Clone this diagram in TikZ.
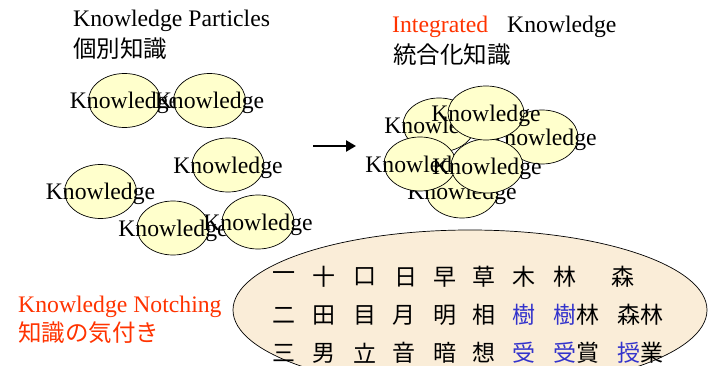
\documentclass[tikz,border=0pt]{standalone}
\usepackage{fontspec}
\setmainfont{Liberation Serif}
\newfontfamily\jp{Noto Sans CJK JP}
\usetikzlibrary{shapes.geometric,arrows.meta}
\definecolor{kred}{HTML}{FF3300}
\definecolor{kblue}{HTML}{3333CC}
\definecolor{kyel}{HTML}{FFFFCC}
\definecolor{kparch}{HTML}{FAEDD8}
\tikzset{
  kell/.style={ellipse, draw=black, line width=0.7pt, fill=kyel, minimum width=72pt, minimum height=54pt, inner sep=0pt},
  ktext/.style={anchor=base, inner sep=0pt, yshift=-8.5pt, font=\fontsize{23.7}{26}\selectfont},
  head/.style={anchor=base west, inner sep=0pt, font=\fontsize{23.7}{26}\selectfont},
  jhead/.style={anchor=base west, inner sep=0pt, font=\jp\fontsize{23.5}{26}\selectfont},
  kj/.style={anchor=west, inner sep=0pt, font=\jp\fontsize{23}{25}\selectfont},
}
\begin{document}
\begin{tikzpicture}[x=1pt,y=-1pt]
\useasboundingbox (0,0) rectangle (714,366);
% headings
\node[head] (hp) at (73,27) {Knowledge Particles};
\node[jhead] (hpj) at (73,58) {個別知識};
\node[head, text=kred] (hi) at (392,33) {Integrated};
\node[head] (hk) at (507,33) {Knowledge};
\node[jhead] (hij) at (393,64) {統合化知識};
\node[head, text=kred] (hn) at (18,312) {Knowledge Notching};
\node[jhead, text=kred] (hnj) at (18,341) {知識の気付き};
% left particles
\node[kell] (e1) at (124.5,100.5) {}; \node[ktext] (t1) at (e1.center) {Knowledge};
\node[kell] (e2) at (209.5,100.5) {}; \node[ktext] (t2) at (e2.center) {Knowledge};
\node[kell] (e3) at (228,165) {}; \node[ktext] (t3) at (e3.center) {Knowledge};
\node[kell] (e4) at (100.5,191.5) {}; \node[ktext] (t4) at (e4.center) {Knowledge};
\node[kell] (e5) at (173,228) {}; \node[ktext] (t5) at (e5.center) {Knowledge};
\node[kell] (e6) at (258,222) {}; \node[ktext] (t6) at (e6.center) {Knowledge};
% arrow
\coordinate (as) at (313,146);
\coordinate (ae) at (356,146);
\draw[line width=2.8pt, -{Triangle[length=10pt,width=11pt]}] (as) -- (ae);
% integrated cluster
\node[kell] (ia) at (439,125) {}; \node[ktext] (ta) at (ia.center) {Knowledge};
\node[kell] (ic) at (542,137) {}; \node[ktext] (tc) at (ic.center) {Knowledge};
\node[kell] (id) at (462,191) {}; \node[ktext] (td) at (id.center) {Knowledge};
\node[kell] (ie) at (420,164) {}; \node[ktext] (te) at (ie.center) {Knowledge};
\node[kell] (if) at (487,166) {}; \node[ktext] (tf) at (if.center) {Knowledge};
\node[kell, minimum width=76pt] (ib) at (486,113) {}; \node[ktext] (tb) at (ib.center) {Knowledge};
% notching ellipse
\node[ellipse, draw=black, line width=0.7pt, fill=kparch, minimum width=474pt, minimum height=160pt, inner sep=0pt] (big) at (470,310) {};
\foreach \x/\t [count=\i] in {272/一,312/十,353/口,394/日,433/早,472/草,512/木,553/林,611/森}
  \node[kj] (ra\i) at (\x,277) {\t};
\foreach \x/\t [count=\i] in {272/二,312/田,353/目,392/月,433/明,472/相,512/{\textcolor{kblue}{樹}},553/{\textcolor{kblue}{樹}林},617/森林}
  \node[kj] (rb\i) at (\x,315) {\t};
\foreach \x/\t [count=\i] in {272/三,312/男,353/立,392/音,433/暗,472/想,512/{\textcolor{kblue}{受}},553/{\textcolor{kblue}{受}賞},617/{\textcolor{kblue}{授}業}}
  \node[kj] (rc\i) at (\x,353) {\t};
\end{tikzpicture}
\end{document}
